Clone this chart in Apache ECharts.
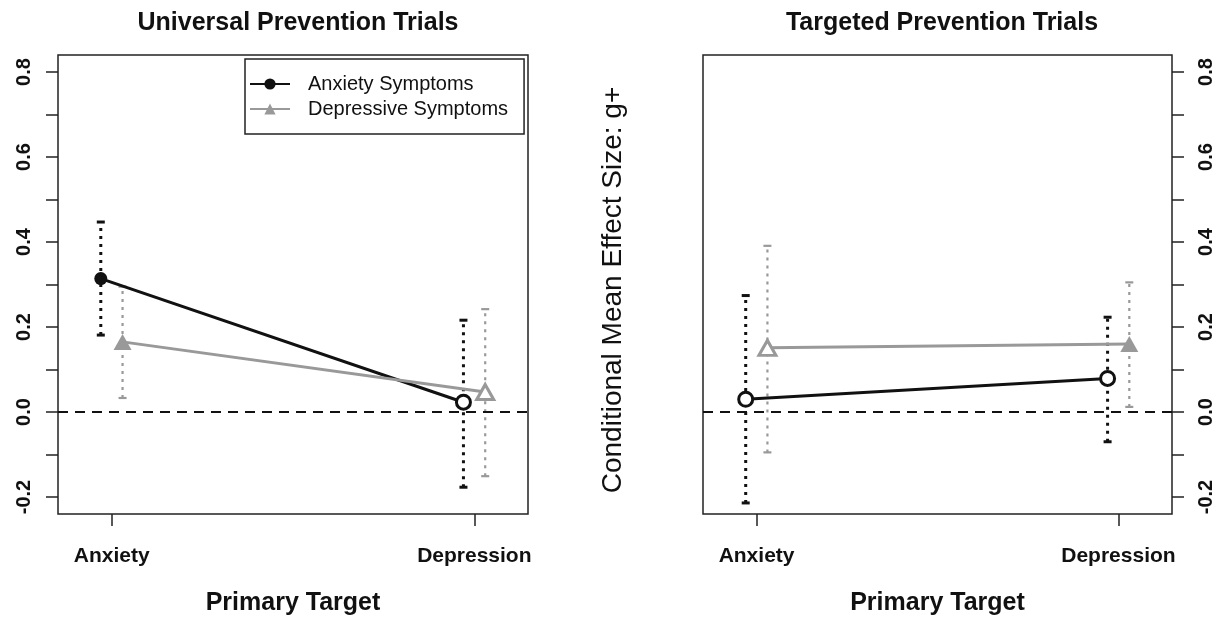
<!DOCTYPE html>
<html>
<head>
<meta charset="utf-8">
<script src="https://cdn.jsdelivr.net/npm/echarts@6/dist/echarts.min.js"></script>
<style>
html,body{margin:0;padding:0;background:#fff;}
#chart{width:1225px;height:621px;}
</style>
</head>
<body>
<div id="chart"></div>
<script>
// ---- data ----
const categories = ["Anxiety", "Depression"];
const seriesNames = ["Anxiety Symptoms", "Depressive Symptoms"];
const panelTitles = ["Universal Prevention Trials", "Targeted Prevention Trials"];

// Universal prevention trials
const univAnxMean = [0.314, 0.023];
const univAnxLow  = [0.181, -0.177];
const univAnxHigh = [0.447, 0.216];
const univDepMean = [0.165, 0.047];
const univDepLow  = [0.033, -0.151];
const univDepHigh = [0.295, 0.242];

// Targeted prevention trials
const targAnxMean = [0.030, 0.079];
const targAnxLow  = [-0.214, -0.070];
const targAnxHigh = [0.274, 0.223];
const targDepMean = [0.151, 0.160];
const targDepLow  = [-0.095, 0.012];
const targDepHigh = [0.391, 0.305];

const yTickValues  = [-0.2, -0.1, 0.0, 0.1, 0.2, 0.3, 0.4, 0.5, 0.6, 0.7, 0.8];
const yLabelValues = [-0.2, 0.0, 0.2, 0.4, 0.6, 0.8];

// ---- styling ----
const FONT = "'Liberation Sans', Arial, Helvetica, sans-serif";
const BLACK = '#111111';
const GRAY = '#999999';
const DODGE = 0.03;

const panels = [
  { anx: [univAnxMean, univAnxLow, univAnxHigh], dep: [univDepMean, univDepLow, univDepHigh] },
  { anx: [targAnxMean, targAnxLow, targAnxHigh], dep: [targDepMean, targDepLow, targDepHigh] }
];

const chart = echarts.init(document.getElementById('chart'), null, { renderer: 'canvas' });

const grids = [
  { left: 58, top: 55, width: 470, height: 465 },
  { left: 703, top: 55, width: 469, height: 465 }
].map(g => Object.assign(g, { show: true, borderColor: '#222', borderWidth: 1.5, backgroundColor: 'transparent', containLabel: false }));

const xAxes = grids.map((g, i) => ({
  type: 'value', gridIndex: i, min: 0.852, max: 2.148,
  axisLine: { show: false, onZero: false },
  splitLine: { show: false },
  axisTick: { show: true, customValues: [1, 2], length: 12, lineStyle: { color: '#222', width: 1.5 } },
  axisLabel: {
    customValues: [1, 2], margin: 32,
    formatter: v => categories[Math.round(v) - 1],
    fontSize: 21, fontWeight: 'bold', color: BLACK, fontFamily: FONT
  },
  name: 'Primary Target', nameLocation: 'middle', nameGap: 77,
  nameTextStyle: { fontSize: 25, fontWeight: 'bold', color: BLACK, fontFamily: FONT }
}));

const yAxes = grids.map((g, i) => ({
  type: 'value', gridIndex: i, min: -0.24, max: 0.84,
  position: i === 0 ? 'left' : 'right',
  axisLine: { show: false },
  splitLine: { show: false },
  axisTick: { show: true, customValues: yTickValues, length: 12, lineStyle: { color: '#222', width: 1.5 } },
  axisLabel: {
    customValues: yLabelValues, rotate: 90, margin: 24,
    formatter: v => v.toFixed(1),
    fontSize: 20, fontWeight: 'bold', color: BLACK, fontFamily: FONT
  }
}));

const series = [];
panels.forEach((p, pi) => {
  [['anx', BLACK, 'circle', -DODGE, 0], ['dep', GRAY, 'triangle', DODGE, 1]].forEach(([key, color, symbol, off, si]) => {
    const [mean, low, high] = p[key];
    // error bars
    series.push({
      type: 'custom', name: 'ci-' + pi + '-' + key,
      xAxisIndex: pi, yAxisIndex: pi, z: 2,
      data: categories.map((c, i) => [i + 1 + off, low[i], high[i]]),
      renderItem: (params, api) => {
        const x = api.value(0);
        const a = api.coord([x, api.value(1)]);
        const b = api.coord([x, api.value(2)]);
        const isBlack = key === 'anx';
        const lw = isBlack ? 3 : 2.2;
        const cw = 4;
        return {
          type: 'group',
          children: [
            { type: 'line', shape: { x1: a[0], y1: a[1], x2: b[0], y2: b[1] },
              style: { stroke: color, lineWidth: lw, lineDash: [3, 5], lineCap: 'butt' } },
            { type: 'line', shape: { x1: a[0] - cw, y1: a[1], x2: a[0] + cw, y2: a[1] },
              style: { stroke: color, lineWidth: lw } },
            { type: 'line', shape: { x1: b[0] - cw, y1: b[1], x2: b[0] + cw, y2: b[1] },
              style: { stroke: color, lineWidth: lw } }
          ]
        };
      }
    });
    // mean line with markers (filled when the interval excludes zero)
    series.push({
      type: 'line', name: seriesNames[si],
      xAxisIndex: pi, yAxisIndex: pi, z: 3,
      symbol: symbol,
      symbolSize: symbol === 'circle' ? 13 : [18, 16],
      lineStyle: { color: color, width: 3 },
      itemStyle: { color: color },
      data: categories.map((c, i) => {
        const filled = low[i] > 0;
        return {
          value: [i + 1 + off, mean[i]],
          symbolSize: symbol === 'circle' ? (filled ? 13 : 14) : (filled ? [18, 16] : [17, 15]),
          itemStyle: filled ? { color: color } : { color: '#fff', borderColor: color, borderWidth: 3 }
        };
      }),
      markLine: si === 0 ? {
        silent: true, symbol: 'none', label: { show: false },
        lineStyle: { color: '#111', width: 2, type: [10, 7] },
        data: [{ yAxis: 0 }]
      } : undefined
    });
  });
});

const option = {
  animation: false,
  backgroundColor: '#fff',
  textStyle: { fontFamily: FONT },
  title: panelTitles.map((t, i) => ({
    text: t, left: i === 0 ? 293 : 937, textAlign: 'center', top: 6,
    textStyle: { fontSize: 25, fontWeight: 'bold', color: BLACK, fontFamily: FONT }
  })),
  legend: {
    data: seriesNames, orient: 'vertical', left: 245, top: 59,
    borderColor: '#222', borderWidth: 1.5, backgroundColor: '#fff',
    padding: [15, 16, 15, 4], itemGap: 5, itemWidth: 40, itemHeight: 14,
    textStyle: { fontSize: 20, color: BLACK, fontFamily: FONT, padding: [0, 0, 0, 13], lineHeight: 20 }
  },
  grid: grids,
  xAxis: xAxes,
  yAxis: yAxes,
  series: series,
  graphic: [{
    type: 'text', x: 613, y: 290, rotation: Math.PI / 2,
    style: { text: 'Conditional Mean Effect Size: g+', fontSize: 28, fontFamily: FONT, fill: BLACK, align: 'center', verticalAlign: 'middle' }
  }]
};
chart.setOption(option);
</script>
</body>
</html>
